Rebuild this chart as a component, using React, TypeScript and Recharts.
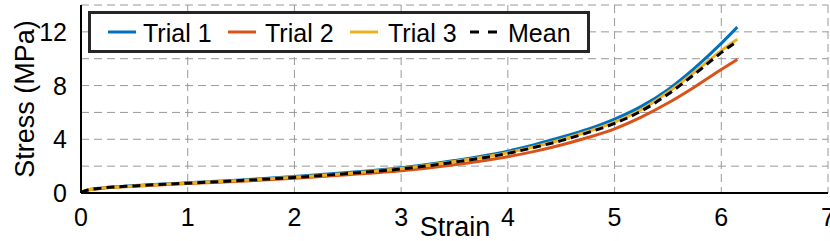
import React from 'react';
import { LineChart, Line, XAxis, YAxis, CartesianGrid } from 'recharts';

const strain = [0, 0.05, 0.2, 0.5, 1, 1.5, 2, 2.5, 3, 3.5, 4, 4.25, 4.5, 4.75, 5, 5.25, 5.5, 5.75, 6, 6.15];
const trial1 = [0.05, 0.2, 0.38, 0.55, 0.76, 0.97, 1.22, 1.52, 1.88, 2.42, 3.12, 3.6, 4.15, 4.75, 5.5, 6.45, 7.7, 9.3, 11.14, 12.35];
const trial2 = [0.05, 0.18, 0.35, 0.5, 0.7, 0.88, 1.1, 1.36, 1.65, 2.1, 2.7, 3.1, 3.57, 4.13, 4.78, 5.65, 6.7, 7.9, 9.2, 9.95];
const trial3 = [0.05, 0.2, 0.37, 0.53, 0.74, 0.94, 1.17, 1.46, 1.82, 2.35, 3.0, 3.45, 3.97, 4.58, 5.28, 6.2, 7.5, 9.0, 10.6, 11.45];
const meanVals = [0.05, 0.19, 0.37, 0.53, 0.73, 0.93, 1.16, 1.45, 1.79, 2.3, 2.95, 3.4, 3.9, 4.5, 5.18, 6.1, 7.35, 8.85, 10.45, 11.3];

const xTicks = [0, 1, 2, 3, 4, 5, 6, 7];
const yTicks = [0, 2, 4, 6, 8, 10, 12, 14];
const yLabelTicks = [0, 4, 8, 12];

const seriesNames = ['Trial 1', 'Trial 2', 'Trial 3', 'Mean'];
const colors = ['#0072BD', '#D95319', '#EDB120', '#000000'];

const data = strain.map((s, i) => ({
  strain: s,
  t1: trial1[i],
  t2: trial2[i],
  t3: trial3[i],
  mean: meanVals[i],
}));

const FONT = '"Liberation Sans", Arial, Helvetica, sans-serif';

const YTick = (props: any) => {
  const { x, y, payload } = props;
  if (!yLabelTicks.includes(payload.value)) return null;
  return (
    <text x={x - 6} y={y} textAnchor="end" dominantBaseline="central" fontSize={25} fontFamily={FONT} fill="#000">
      {payload.value}
    </text>
  );
};

const XTick = (props: any) => {
  const { x, y, payload } = props;
  return (
    <text x={x} y={y + 7} textAnchor="middle" dominantBaseline="hanging" fontSize={25} fontFamily={FONT} fill="#000">
      {payload.value}
    </text>
  );
};

const LegendBox = () => {
  const items = [
    { lx: 20, tx: 55, dash: undefined },
    { lx: 140, tx: 177, dash: undefined },
    { lx: 262, tx: 300, dash: undefined },
    { lx: 382, tx: 420, dash: '9 9' },
  ];
  return (
    <svg width={502} height={42} style={{ display: 'block' }}>
      <rect x={1.5} y={1.5} width={499} height={39} fill="#fff" stroke="#262626" strokeWidth={3} />
      {items.map((it, i) => (
        <g key={i}>
          <line x1={it.lx} x2={it.lx + 28} y1={21} y2={21} stroke={colors[i]} strokeWidth={3} strokeDasharray={it.dash} />
          <text x={it.tx} y={22} dominantBaseline="central" fontSize={25} fontFamily={FONT} fill="#000">
            {seriesNames[i]}
          </text>
        </g>
      ))}
    </svg>
  );
};

const YLabel = () => (
  <text transform="translate(25,99) rotate(-90)" textAnchor="middle" dominantBaseline="central" fontSize={27} fontFamily={FONT} fill="#000">
    Stress (MPa)
  </text>
);

const XLabel = () => (
  <text x={455} y={236} textAnchor="middle" fontSize={27} fontFamily={FONT} fill="#000">
    Strain
  </text>
);

export default function App() {
  return (
    <div style={{ position: 'absolute', left: 0, top: 0, width: 830, height: 241, background: '#fff' }}>
      <LineChart width={830} height={241} data={data} margin={{ top: 5, right: 2, bottom: 0, left: 0 }}>
        <CartesianGrid stroke="#999" strokeDasharray="8 5" strokeWidth={1} />
        <XAxis
          dataKey="strain"
          type="number"
          domain={[0, 7]}
          ticks={xTicks}
          height={48}
          axisLine={{ stroke: '#000', strokeWidth: 2 }}
          tickLine={false}
          tick={<XTick />}
          interval={0}
          label={<XLabel />}
        />
        <XAxis
          xAxisId="top"
          orientation="top"
          dataKey="strain"
          type="number"
          domain={[0, 7]}
          height={0}
          axisLine={{ stroke: '#000', strokeWidth: 2 }}
          tickLine={false}
          tick={false}
        />
        <YAxis
          type="number"
          domain={[0, 14]}
          ticks={yTicks}
          width={81}
          axisLine={{ stroke: '#000', strokeWidth: 2 }}
          tickLine={false}
          tick={<YTick />}
          interval={0}
          label={<YLabel />}
        />
        <YAxis
          yAxisId="right"
          orientation="right"
          type="number"
          domain={[0, 14]}
          width={0}
          axisLine={{ stroke: '#000', strokeWidth: 2 }}
          tickLine={false}
          tick={false}
        />
        <Line type="monotone" dataKey="t1" stroke={colors[0]} strokeWidth={3} dot={false} isAnimationActive={false} />
        <Line type="monotone" dataKey="t2" stroke={colors[1]} strokeWidth={3} dot={false} isAnimationActive={false} />
        <Line type="monotone" dataKey="t3" stroke={colors[2]} strokeWidth={3} dot={false} isAnimationActive={false} />
        <Line type="monotone" dataKey="mean" stroke={colors[3]} strokeWidth={3} strokeDasharray="8 5" dot={false} isAnimationActive={false} />
      </LineChart>
      <div style={{ position: 'absolute', left: 88, top: 11 }}>
        <LegendBox />
      </div>
    </div>
  );
}
